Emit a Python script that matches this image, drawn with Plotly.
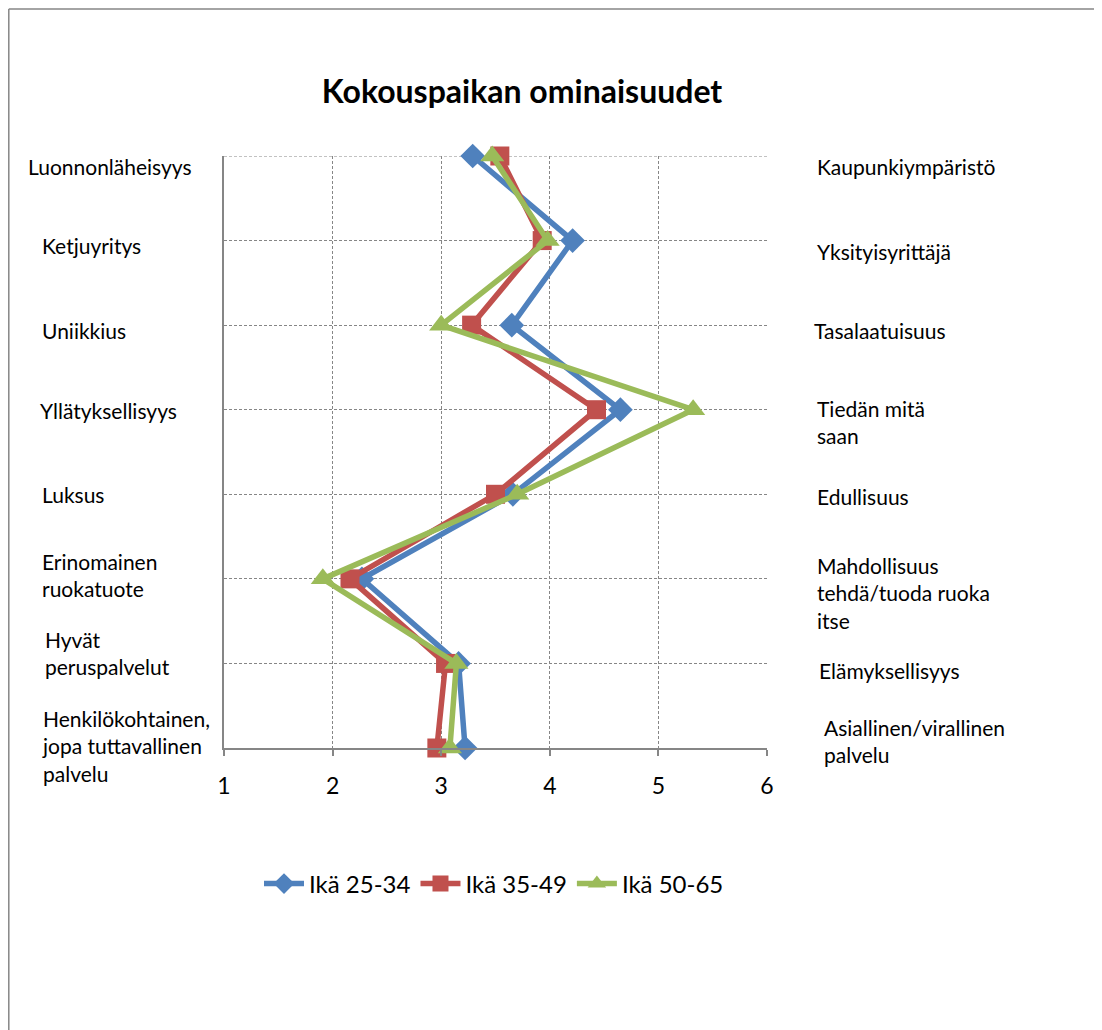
import plotly.graph_objects as go

# ---- data ----
left_labels = [
    "Luonnonläheisyys",
    "Ketjuyritys",
    "Uniikkius",
    "Yllätyksellisyys",
    "Luksus",
    "Erinomainen<br>ruokatuote",
    "Hyvät<br>peruspalvelut",
    "Henkilökohtainen,<br>jopa tuttavallinen<br>palvelu",
]
right_labels = [
    "Kaupunkiympäristö",
    "Yksityisyrittäjä",
    "Tasalaatuisuus",
    "Tiedän mitä<br>saan",
    "Edullisuus",
    "Mahdollisuus<br>tehdä/tuoda ruoka<br>itse",
    "Elämyksellisyys",
    "Asiallinen/virallinen<br>palvelu",
]
rows = [0, 1, 2, 3, 4, 5, 6, 7]
x_ticks = [1, 2, 3, 4, 5, 6]

series_names = ["Ikä 25-34", "Ikä 35-49", "Ikä 50-65"]
age_25_34 = [3.29, 4.21, 3.65, 4.65, 3.66, 2.27, 3.16, 3.22]
age_35_49 = [3.54, 3.93, 3.28, 4.43, 3.50, 2.16, 3.04, 2.96]
age_50_65 = [3.47, 3.98, 3.00, 5.32, 3.70, 1.91, 3.14, 3.08]

# ---- layout geometry (pixels, in screenshot coords; page has 8px body offset) ----
OFF = 8
W, H = 1102, 1030
L, R, T, B = 224 - OFF, 767 - OFF, 156 - OFF, 748 - OFF
pw, ph = R - L, B - T

def px(xp):
    return (xp - OFF - L) / pw

def py(yp):
    return (B - (yp - OFF)) / ph

FONT = "Lato, 'Open Sans', sans-serif"
LBL = 21

fig = go.Figure()
styles = [
    dict(color="#4F81BD", symbol="diamond", size=19),
    dict(color="#C0504D", symbol="square", size=19),
    dict(color="#9BBB59", symbol="triangle-up", size=21),
]
for name, vals, st in zip(series_names, [age_25_34, age_35_49, age_50_65], styles):
    fig.add_trace(go.Scatter(
        x=vals, y=rows, name=name, mode="lines+markers",
        line=dict(color=st["color"], width=5.5),
        marker=dict(color=st["color"], symbol=st["symbol"], size=st["size"]),
        cliponaxis=False,
    ))

annotations = []
left_x = [26, 40, 40, 38, 40, 40, 43, 40]
left_shift = [-10, -5, -5, -1, 0, 4, 10, 2]
for i, (lab, xx, sh) in enumerate(zip(left_labels, left_x, left_shift)):
    annotations.append(dict(
        text=lab, xref="paper", yref="y", x=px(xx), y=rows[i], yshift=sh,
        xanchor="left", yanchor="middle", align="left", showarrow=False,
        font=dict(family=FONT, size=LBL, color="#000000"),
    ))
right_x = [815, 815, 812, 815, 815, 815, 817, 822]
right_shift = [-10, -11, -5, -12, -2, -14, -7, 7]
for i, (lab, xx, sh) in enumerate(zip(right_labels, right_x, right_shift)):
    annotations.append(dict(
        text=lab, xref="paper", yref="y", x=px(xx), y=rows[i], yshift=sh,
        xanchor="left", yanchor="middle", align="left", showarrow=False,
        font=dict(family=FONT, size=LBL, color="#000000"),
    ))

shapes = [
    # outer chart border (top and left visible)
    dict(type="line", xref="paper", yref="paper", x0=px(8.8), x1=px(1120),
         y0=py(9), y1=py(9), line=dict(color="#868686", width=1.5)),
    dict(type="line", xref="paper", yref="paper", x0=px(8.8), x1=px(8.8),
         y0=py(9), y1=py(1050), line=dict(color="#868686", width=1.5)),
    # top gridline (at axis range edge)
    dict(type="line", xref="paper", yref="y", x0=0, x1=1, y0=rows[0], y1=rows[0],
         line=dict(color="#868686", width=1, dash="3px,2px"), layer="below"),
]

fig.update_layout(
    width=W, height=H,
    margin=dict(l=L, r=W - R, t=T, b=H - B, pad=0),
    paper_bgcolor="white", plot_bgcolor="white",
    title=dict(text="<b>Kokouspaikan ominaisuudet</b>", x=px(522), xref="paper",
               xanchor="center", y=1 - (92 - OFF) / H, yanchor="middle",
               font=dict(family=FONT, size=32, color="#000000")),
    xaxis=dict(range=[1, 6], tickvals=x_ticks, showgrid=True,
               gridcolor="#868686", griddash="3px,2px", gridwidth=1,
               showline=True, linecolor="#868686", linewidth=2,
               ticks="outside", ticklen=6, tickcolor="#868686", tickwidth=1.5,
               ticklabelstandoff=10,
               tickfont=dict(family=FONT, size=23, color="#000000"),
               zeroline=False, fixedrange=True),
    yaxis=dict(range=[7, 0], tickvals=rows, showticklabels=False,
               showgrid=True, gridcolor="#868686", griddash="3px,2px", gridwidth=1,
               showline=True, linecolor="#868686", linewidth=2,
               ticks="", zeroline=False, fixedrange=True),
    legend=dict(orientation="h", x=px(494), xanchor="center", y=py(884),
                yanchor="middle", font=dict(family=FONT, size=24, color="#000000"),
                itemwidth=40, tracegroupgap=0, bgcolor="rgba(0,0,0,0)"),
    annotations=annotations,
    shapes=shapes,
    showlegend=True,
)

fig.write_html("out.html")
